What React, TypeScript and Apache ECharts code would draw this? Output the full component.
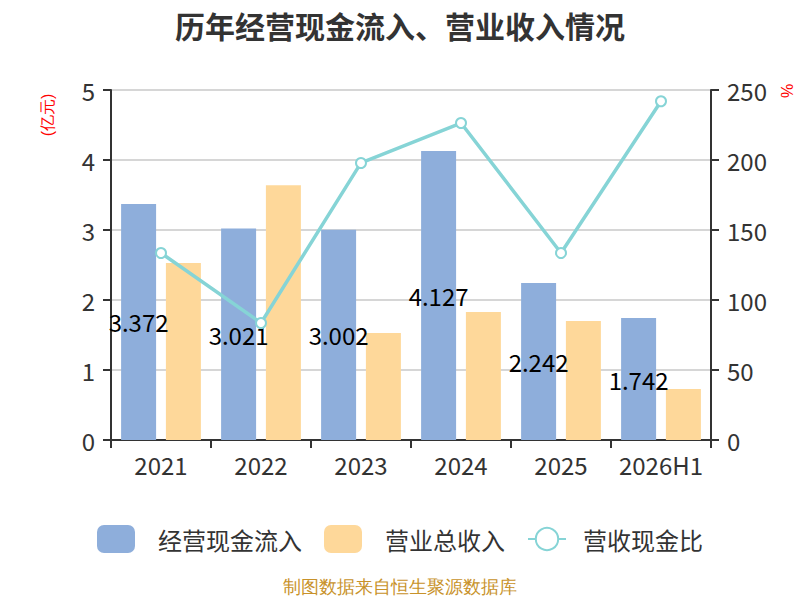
import { useEffect, useRef } from "react"
import * as echarts from "echarts"

const categories = ["2021", "2022", "2023", "2024", "2025", "2026H1"]
const cashInflow = [3.372, 3.021, 3.002, 4.127, 2.242, 1.742]
const revenue = [2.53, 3.64, 1.53, 1.83, 1.7, 0.73]
const ratio = [133.6, 83.6, 197.9, 226.4, 133.6, 242]

export default function App() {
    const chartRef = useRef<HTMLDivElement>(null)

    useEffect(() => {
        document.body.style.margin = "0"
        if (!chartRef.current) return
        const chart = echarts.init(chartRef.current, null, { renderer: "svg" })

        const axisLabel = { fontSize: 24, color: "#333", fontFamily: "Noto Sans CJK SC" }
        const axisLine = { show: true, lineStyle: { color: "#333", width: 2 } }
        const axisTick = { show: true, length: 8, lineStyle: { color: "#333", width: 2 } }

        chart.setOption({
            animation: false,
            textStyle: { fontFamily: "Noto Sans CJK SC" },
            title: {
                text: "历年经营现金流入、营业收入情况",
                left: "center",
                top: 5,
                textStyle: { fontSize: 30, fontWeight: "bold", color: "#333" },
            },
            grid: { left: 111, right: 89, top: 90, bottom: 160 },
            legend: {
                top: 520,
                left: "center",
                itemWidth: 38,
                itemHeight: 28,
                itemGap: 22,
                textStyle: { fontSize: 24, color: "#333" },
                data: [
                    { name: "经营现金流入", icon: "roundRect", textStyle: { padding: [0, 0, 0, 18] } },
                    { name: "营业总收入", icon: "roundRect", textStyle: { padding: [0, 0, 0, 18] } },
                    { name: "营收现金比", textStyle: { padding: [0, 0, 0, 12] } },
                ],
            },
            graphic: [
                {
                    type: "text",
                    x: 47,
                    y: 115,
                    rotation: Math.PI / 2,
                    style: {
                        text: "(亿元)",
                        fill: "#ff0000",
                        fontSize: 16,
                        align: "center",
                        verticalAlign: "middle",
                    },
                },
                {
                    type: "text",
                    x: 787,
                    y: 91,
                    rotation: Math.PI / 2,
                    style: {
                        text: "%",
                        fill: "#ff0000",
                        fontSize: 16,
                        align: "center",
                        verticalAlign: "middle",
                    },
                },
                {
                    type: "text",
                    left: "center",
                    top: 578,
                    style: {
                        text: "制图数据来自恒生聚源数据库",
                        fill: "#c8922a",
                        fontSize: 18,
                    },
                },
            ],
            xAxis: {
                type: "category",
                data: categories,
                axisLine,
                axisTick,
                axisLabel: { ...axisLabel, margin: 12, interval: 0 },
            },
            yAxis: [
                {
                    type: "value",
                    min: 0,
                    max: 5,
                    interval: 1,
                    axisLine,
                    axisTick,
                    axisLabel: { ...axisLabel, margin: 16 },
                    splitLine: { lineStyle: { color: "#c8c8c8", width: 1.5 } },
                },
                {
                    type: "value",
                    min: 0,
                    max: 250,
                    interval: 50,
                    axisLine,
                    axisTick,
                    axisLabel: { ...axisLabel, margin: 16 },
                    splitLine: { show: false },
                },
            ],
            series: [
                {
                    name: "经营现金流入",
                    type: "bar",
                    data: cashInflow,
                    barWidth: 35,
                    barGap: "28%",
                    itemStyle: { color: "#8eaedb" },
                    label: {
                        show: true,
                        position: "inside",
                        fontSize: 24,
                        color: "#000",
                        formatter: (p: any) => p.value.toFixed(3),
                    },
                },
                {
                    name: "营业总收入",
                    type: "bar",
                    data: revenue,
                    barWidth: 35,
                    itemStyle: { color: "#fed89a" },
                },
                {
                    name: "营收现金比",
                    type: "line",
                    yAxisIndex: 1,
                    data: ratio,
                    symbol: "emptyCircle",
                    symbolSize: 10,
                    lineStyle: { color: "#86d4d6", width: 3.5 },
                    itemStyle: { color: "#86d4d6", borderWidth: 2 },
                    z: 5,
                },
            ],
        })

        return () => {
            chart.dispose()
        }
    }, [])

    return <div ref={chartRef} style={{ width: 800, height: 600 }} />
}
